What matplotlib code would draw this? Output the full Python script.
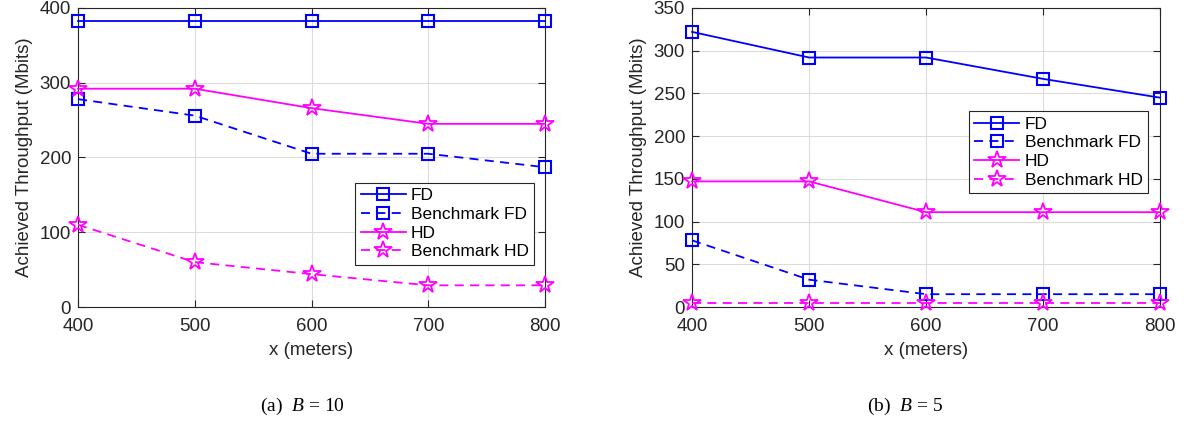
import matplotlib
matplotlib.use("Agg")
import matplotlib.pyplot as plt

plt.rcParams['font.family'] = ['Liberation Sans', 'DejaVu Sans']
plt.rcParams['mathtext.fontset'] = 'custom'
plt.rcParams['mathtext.it'] = 'Liberation Serif:italic'
plt.rcParams['mathtext.rm'] = 'Liberation Serif'

x = [400, 500, 600, 700, 800]

# Panel (a) B = 10
a_fd = [382, 382, 382, 382, 382]
a_bfd = [278, 256, 205, 205, 187]
a_hd = [292, 292, 266, 245, 245]
a_bhd = [110, 60, 44, 29, 29]

# Panel (b) B = 5
b_fd = [322, 292, 292, 267, 245]
b_bfd = [78, 32, 15, 15, 15]
b_hd = [147, 147, 111, 111, 111]
b_bhd = [5, 5, 5, 5, 5]

labels = ["FD", "Benchmark FD", "HD", "Benchmark HD"]
a_yticks = [0, 100, 200, 300, 400]
b_yticks = [0, 50, 100, 150, 200, 250, 300, 350]
captions = ["(a)  $B$ = 10", "(b)  $B$ = 5"]

BLUE = "#0000FF"
MAG = "#FF00FF"
TXT = "#262626"

fig = plt.figure(figsize=(11.84, 4.23), dpi=100)
ax1 = fig.add_axes([0.0659, 0.2742, 0.3944, 0.707])
ax2 = fig.add_axes([0.5845, 0.2742, 0.3953, 0.707])


def draw(ax, fd, bfd, hd, bhd, yticks, legloc):
    dash = (0, (5, 3.5))
    kw = dict(clip_on=False, zorder=3)
    ax.plot(x, fd, color=BLUE, lw=1.3, marker='s', ms=9, mfc='none', mew=1.5, label=labels[0], **kw)
    ax.plot(x, bfd, color=BLUE, lw=1.3, ls=dash, marker='s', ms=9, mfc='none', mew=1.5, label=labels[1], **kw)
    ax.plot(x, hd, color=MAG, lw=1.3, marker='*', ms=13, mfc='none', mew=1.3, label=labels[2], **kw)
    ax.plot(x, bhd, color=MAG, lw=1.3, ls=dash, marker='*', ms=13, mfc='none', mew=1.3, label=labels[3], **kw)
    ax.set_xlim(400, 800)
    ax.set_ylim(yticks[0], yticks[-1])
    ax.set_xticks(x)
    ax.set_yticks(yticks)
    ax.grid(True, color='#dcdcdc', lw=0.8)
    ax.set_axisbelow(True)
    ax.tick_params(direction='in', top=True, right=True, labelsize=13.5, colors=TXT, length=5, width=0.8)
    ax.tick_params(axis='x', pad=8)
    ax.tick_params(axis='y', pad=5)
    for s in ax.spines.values():
        s.set_color(TXT)
        s.set_linewidth(0.8)
    ax.set_xlabel("x (meters)", fontsize=13.5, color=TXT, labelpad=5)
    ax.set_ylabel("Achieved Throughput (Mbits)", fontsize=13.5, color=TXT, labelpad=5)
    leg = ax.legend(loc=legloc[0], bbox_to_anchor=legloc[1], fontsize=12.5, frameon=True,
                    fancybox=False, framealpha=1, edgecolor=TXT, handlelength=2.6,
                    borderpad=0.3, labelspacing=0.2, handletextpad=0.3, borderaxespad=0)
    leg.get_frame().set_linewidth(0.8)
    leg.set_zorder(5)
    for t in leg.get_texts():
        t.set_color('black')


draw(ax1, a_fd, a_bfd, a_hd, a_bhd, a_yticks, ('lower right', (0.977, 0.142)))
draw(ax2, b_fd, b_bfd, b_hd, b_bhd, b_yticks, ('upper right', (0.974, 0.654)))

fig.text(0.255, 0.038, captions[0], ha='center', va='center', fontsize=14, family='Liberation Serif')
fig.text(0.764, 0.038, captions[1], ha='center', va='center', fontsize=14, family='Liberation Serif')

fig.savefig("out.png", dpi=100)
